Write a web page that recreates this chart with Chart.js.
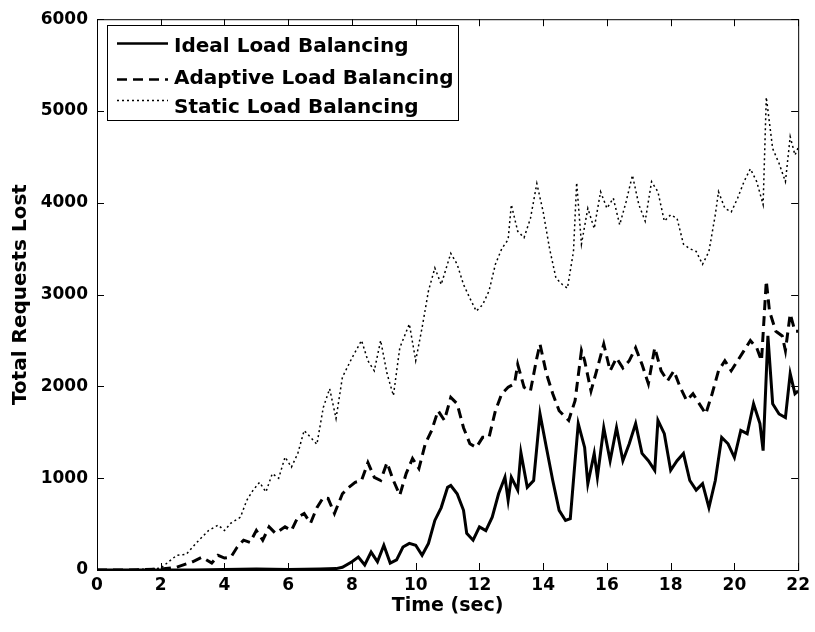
<!DOCTYPE html>
<html>
<head>
<meta charset="utf-8">
<script src="https://cdn.jsdelivr.net/npm/chart.js@4"></script>
<style>
  html, body { margin: 0; padding: 0; background: #fff; }
  canvas { display: block; }
</style>
</head>
<body>
<canvas id="lostChart" width="815" height="632"></canvas>
<script>
// values
const idealTime = [0, 1, 2, 3, 4, 5, 6, 7, 7.5, 7.7, 8.0, 8.2, 8.4, 8.6, 8.8, 9.0, 9.2, 9.4, 9.6, 9.8, 10.0, 10.2, 10.4, 10.6, 10.8, 11.0, 11.1, 11.3, 11.5, 11.6, 11.8, 12.0, 12.2, 12.4, 12.6, 12.8, 12.9, 13.0, 13.2, 13.3, 13.5, 13.7, 13.9, 14.1, 14.3, 14.5, 14.7, 14.85, 15.0, 15.1, 15.3, 15.4, 15.6, 15.7, 15.9, 16.1, 16.3, 16.5, 16.7, 16.9, 17.1, 17.3, 17.5, 17.6, 17.8, 18.0, 18.2, 18.4, 18.6, 18.8, 19.0, 19.2, 19.4, 19.6, 19.8, 20.0, 20.2, 20.4, 20.6, 20.8, 20.9, 21.05, 21.2, 21.4, 21.6, 21.75, 21.9, 22];
const idealLost = [0, 0, 0, 0, 5, 10, 5, 10, 15, 30, 90, 140, 55, 195, 90, 270, 75, 110, 250, 290, 270, 160, 290, 540, 680, 900, 920, 830, 650, 400, 325, 470, 430, 575, 830, 1010, 760, 1010, 870, 1280, 900, 975, 1700, 1335, 975, 650, 540, 560, 1190, 1595, 1335, 940, 1270, 1010, 1550, 1190, 1550, 1190, 1375, 1595, 1270, 1190, 1085, 1630, 1485, 1085, 1190, 1270, 975, 870, 940, 680, 975, 1445, 1375, 1225, 1520, 1485, 1810, 1595, 1300, 2550, 1810, 1700, 1660, 2140, 1920, 1950];

const adaptiveTime = [0, 1, 1.5, 2, 2.5, 3, 3.3, 3.6, 3.8, 4.0, 4.2, 4.4, 4.6, 4.8, 5.0, 5.2, 5.4, 5.6, 5.9, 6.1, 6.3, 6.5, 6.7, 6.9, 7.1, 7.25, 7.45, 7.7, 7.9, 8.1, 8.3, 8.5, 8.7, 8.9, 9.1, 9.3, 9.5, 9.7, 9.9, 10.1, 10.3, 10.5, 10.7, 10.9, 11.1, 11.3, 11.5, 11.7, 11.9, 12.1, 12.3, 12.5, 12.7, 12.9, 13.1, 13.2, 13.4, 13.6, 13.8, 13.9, 14.1, 14.3, 14.5, 14.8, 15.0, 15.2, 15.3, 15.5, 15.7, 15.9, 16.1, 16.3, 16.5, 16.7, 16.9, 17.1, 17.3, 17.5, 17.7, 17.9, 18.1, 18.3, 18.5, 18.7, 18.9, 19.1, 19.3, 19.5, 19.7, 19.9, 20.1, 20.3, 20.5, 20.7, 20.85, 21.0, 21.1, 21.3, 21.5, 21.6, 21.75, 21.9, 22];
const adaptiveLost = [0, 0, 5, 10, 30, 90, 140, 75, 160, 130, 140, 250, 325, 300, 430, 325, 470, 400, 470, 430, 575, 615, 510, 680, 790, 780, 615, 830, 900, 955, 975, 1170, 1010, 975, 1170, 975, 815, 1050, 1215, 1105, 1375, 1520, 1735, 1630, 1880, 1810, 1550, 1375, 1335, 1445, 1445, 1735, 1920, 1990, 2030, 2240, 1990, 1950, 2310, 2460, 2140, 1920, 1735, 1630, 1845, 2390, 2280, 1950, 2200, 2460, 2170, 2310, 2200, 2280, 2420, 2240, 2030, 2420, 2170, 2060, 2170, 1990, 1845, 1920, 1810, 1700, 1920, 2170, 2280, 2170, 2280, 2390, 2500, 2420, 2280, 3150, 2820, 2600, 2550, 2390, 2790, 2600, 2600];

const staticTime = [0, 1, 2, 2.5, 2.8, 3.0, 3.2, 3.5, 3.8, 4.0, 4.2, 4.5, 4.7, 4.9, 5.1, 5.3, 5.5, 5.7, 5.9, 6.1, 6.3, 6.5, 6.7, 6.9, 7.1, 7.3, 7.5, 7.7, 8.0, 8.3, 8.5, 8.7, 8.9, 9.1, 9.3, 9.5, 9.8, 10.0, 10.2, 10.4, 10.6, 10.8, 11.1, 11.3, 11.5, 11.7, 11.9, 12.1, 12.3, 12.5, 12.7, 12.9, 13.0, 13.2, 13.4, 13.6, 13.8, 14.0, 14.2, 14.4, 14.6, 14.76, 14.95, 15.05, 15.2, 15.4, 15.6, 15.8, 16.0, 16.2, 16.4, 16.6, 16.8, 17.0, 17.2, 17.4, 17.6, 17.8, 18.0, 18.2, 18.4, 18.6, 18.8, 19.0, 19.2, 19.4, 19.5, 19.7, 19.9, 20.1, 20.3, 20.5, 20.7, 20.9, 21.0, 21.2, 21.4, 21.6, 21.75, 21.9, 22];
const staticLost = [0, 0, 20, 160, 170, 250, 325, 430, 490, 430, 510, 575, 760, 870, 955, 850, 1050, 1000, 1230, 1120, 1270, 1520, 1445, 1370, 1770, 1975, 1650, 2100, 2310, 2500, 2280, 2170, 2500, 2140, 1900, 2420, 2680, 2280, 2640, 3040, 3290, 3110, 3450, 3330, 3110, 2960, 2820, 2890, 3040, 3330, 3500, 3600, 3980, 3690, 3620, 3830, 4210, 3900, 3500, 3180, 3110, 3070, 3470, 4220, 3550, 3940, 3720, 4120, 3940, 4050, 3760, 4010, 4300, 3980, 3800, 4230, 4120, 3800, 3870, 3830, 3550, 3500, 3470, 3330, 3470, 3870, 4120, 3940, 3900, 4050, 4230, 4370, 4230, 3980, 5150, 4590, 4430, 4230, 4720, 4520, 4600];

const seriesNames = ['Ideal Load Balancing', 'Adaptive Load Balancing', 'Static Load Balancing'];
const xTicks = [0, 2, 4, 6, 8, 10, 12, 14, 16, 18, 20, 22];
const yTicks = [0, 1000, 2000, 3000, 4000, 5000, 6000];

const FONT = '"DejaVu Sans", Arial, sans-serif';

function toPoints(xs, ys) {
    return xs.map((x, i) => ({ x, y: ys[i] }));
}

const styles = [
    { width: 3, dash: [] },
    { width: 3, dash: [10, 6] },
    { width: 1.5, dash: [2, 3] },
];

// MATLAB style box, inward ticks and legend
const matlabFrame = {
    id: 'matlabFrame',
    afterDraw(chart) {
        const { ctx, chartArea: a, scales } = chart;
        ctx.save();
        ctx.strokeStyle = '#000';
        ctx.lineWidth = 1;
        ctx.setLineDash([]);
        ctx.strokeRect(a.left + 0.5, a.top + 0.5, a.right - a.left, a.bottom - a.top);
        const tl = 7;
        ctx.beginPath();
        xTicks.forEach(v => {
            const px = Math.round(scales.x.getPixelForValue(v)) + 0.5;
            ctx.moveTo(px, a.bottom); ctx.lineTo(px, a.bottom - tl);
            ctx.moveTo(px, a.top); ctx.lineTo(px, a.top + tl);
        });
        yTicks.forEach(v => {
            const py = Math.round(scales.y.getPixelForValue(v)) + 0.5;
            ctx.moveTo(a.left, py); ctx.lineTo(a.left + tl, py);
            ctx.moveTo(a.right, py); ctx.lineTo(a.right - tl, py);
        });
        ctx.stroke();

        // legend box
        const bx = 107, by = 25, bw = 351, bh = 95;
        ctx.fillStyle = '#fff';
        ctx.fillRect(bx, by, bw, bh);
        ctx.strokeRect(bx + 0.5, by + 0.5, bw, bh);
        ctx.font = 'bold 20px ' + FONT;
        ctx.textBaseline = 'alphabetic';
        ctx.fillStyle = '#000';
        const textBase = [52, 84, 113];
        const lineY = [43, 79, 100];
        seriesNames.forEach((name, i) => {
            ctx.lineWidth = styles[i].width === 3 ? 2.5 : 1.5;
            ctx.setLineDash(styles[i].dash);
            ctx.beginPath();
            ctx.moveTo(117, lineY[i] + 0.5);
            ctx.lineTo(168, lineY[i] + 0.5);
            ctx.stroke();
            ctx.setLineDash([]);
            ctx.fillText(name, 174, textBase[i]);
        });
        ctx.restore();
    }
};

const tickFont = { family: FONT, size: 17, weight: 'bold' };

const ctx = document.getElementById('lostChart');
new Chart(ctx, {
    type: 'line',
    data: {
        datasets: [
            { label: seriesNames[0], data: toPoints(idealTime, idealLost) },
            { label: seriesNames[1], data: toPoints(adaptiveTime, adaptiveLost) },
            { label: seriesNames[2], data: toPoints(staticTime, staticLost) },
        ].map((d, i) => ({
            ...d,
            borderColor: '#000',
            borderWidth: styles[i].width,
            borderDash: styles[i].dash,
            pointRadius: 0,
            tension: 0,
            fill: false,
        })),
    },
    options: {
        responsive: false,
        animation: false,
        layout: { padding: { top: 17, right: 15, left: 0, bottom: 0 } },
        plugins: {
            legend: { display: false },
            tooltip: { enabled: false },
        },
        scales: {
            x: {
                type: 'linear',
                min: 0,
                max: 22,
                afterBuildTicks(scale) { scale.ticks = xTicks.map(v => ({ value: v })); },
                afterFit(scale) { scale.height = 62; },
                ticks: { color: '#000', font: tickFont, padding: 5, maxRotation: 0, autoSkip: false, callback: v => String(v) },
                grid: { display: false, drawTicks: false },
                border: { display: false },
                title: { display: true, text: 'Time (sec)', color: '#000', font: { family: FONT, size: 19, weight: 'bold' }, padding: { top: 0, bottom: 15 } },
            },
            y: {
                min: 0,
                max: 6000,
                afterBuildTicks(scale) { scale.ticks = yTicks.map(v => ({ value: v })); },
                afterFit(scale) { scale.width = 97; },
                ticks: { color: '#000', font: tickFont, padding: 9, autoSkip: false, callback: v => String(v) },
                grid: { display: false, drawTicks: false },
                border: { display: false },
                title: { display: true, text: 'Total Requests Lost', color: '#000', font: { family: FONT, size: 20, weight: 'bold' }, padding: { top: 9, bottom: 0 } },
            },
        },
    },
    plugins: [matlabFrame],
});
</script>
</body>
</html>
